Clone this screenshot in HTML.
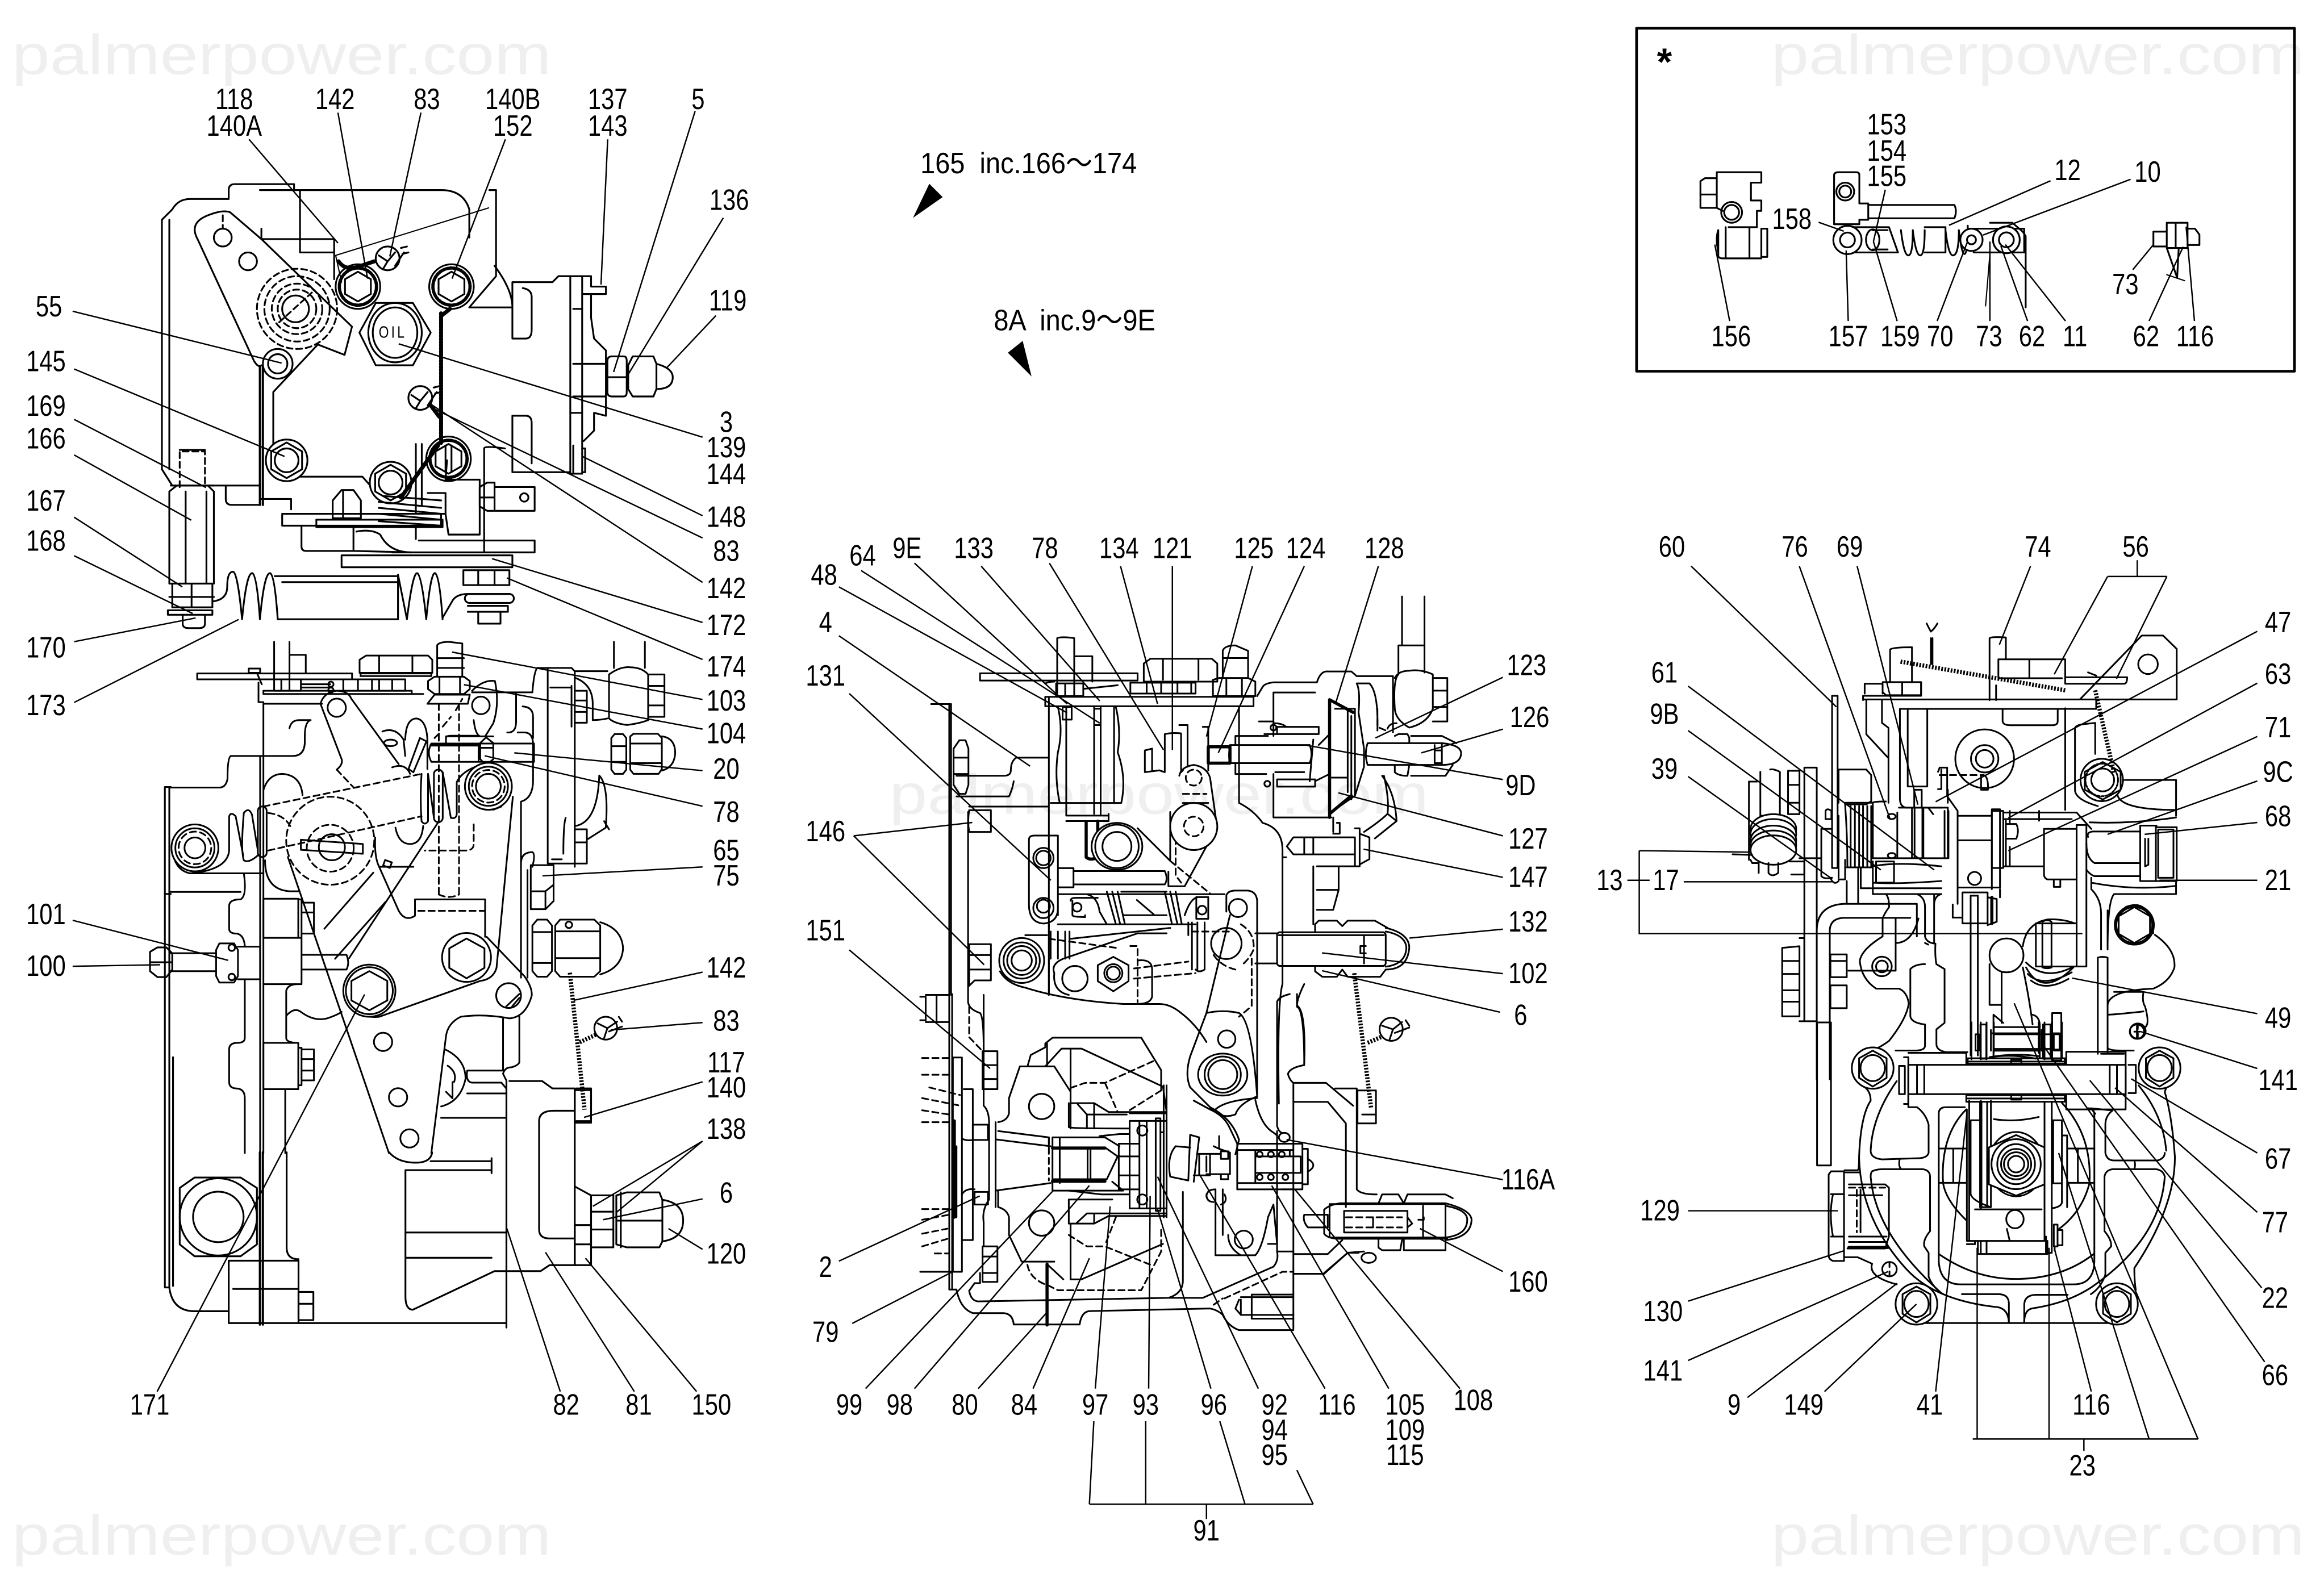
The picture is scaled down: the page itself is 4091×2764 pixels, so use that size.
<!DOCTYPE html>
<html><head><meta charset="utf-8"><title>Fuel injection pump parts diagram</title>
<style>
html,body{margin:0;padding:0;background:#fff;width:4091px;height:2764px;overflow:hidden}
svg{display:block}
.g{fill:none;stroke:#000;stroke-width:1.2;stroke-linejoin:round;stroke-linecap:round}
.d{stroke-dasharray:4 2.5}
.t{stroke-width:.8}
.w{fill:#fff}
.wire{fill:none;stroke:#000;stroke-width:2.7;stroke-dasharray:1.1 1}
.l{fill:none;stroke:#000;stroke-width:.95}
.z path,.z circle,.z ellipse,.z rect{vector-effect:non-scaling-stroke;stroke-width:3px;fill:none;stroke:#000;stroke-linejoin:round;stroke-linecap:round}
.z .w{fill:#fff}
.z .dd{stroke-dasharray:11 7}
.z .tk{stroke-width:5.5px}
.z .zw{stroke-width:7.5px;stroke-dasharray:3 2.6;stroke-linecap:butt}
.lab text{font-family:"Liberation Sans",sans-serif;font-size:20px;fill:#000;text-anchor:middle;dominant-baseline:central;transform-box:fill-box;transform-origin:center;transform:scaleX(.8)}
.lab text.x9{transform:scaleX(.9)}
.wm{font-family:"Liberation Sans",sans-serif;font-size:38px;fill:#efefef}
</style></head><body>
<svg xmlns="http://www.w3.org/2000/svg" width="4091" height="2764" viewBox="0 0 1568 1059.4">
<defs>
<g id="b"><circle r="14" class="w"/><path d="M0-12 10.4-6V6L0 12-10.4 6V-6Z"/></g>
<g id="bs"><circle r="15" class="w"/><circle r="12.5" stroke-dasharray="1.5 1" stroke-width="2.2"/><path d="M0-10 8.7-5V5L0 10-8.7 5V-5Z"/></g>
<g id="seal"><circle r="8" class="w"/><path d="M-6-2 0 2 5-4M0 2-3 7M5 5 11-4M9-7 13-8M10-3 14-4"/></g>
</defs>
<rect width="1568" height="1060" fill="#fff"/>
<text class="wm" x="8" y="50" textLength="364" lengthAdjust="spacingAndGlyphs">palmerpower.com</text>
<text class="wm" x="1195" y="50" textLength="360" lengthAdjust="spacingAndGlyphs">palmerpower.com</text>
<text class="wm" x="8" y="1049" textLength="364" lengthAdjust="spacingAndGlyphs">palmerpower.com</text>
<text class="wm" x="1195" y="1049" textLength="360" lengthAdjust="spacingAndGlyphs">palmerpower.com</text>
<text class="wm" x="600" y="549" textLength="364" lengthAdjust="spacingAndGlyphs">palmerpower.com</text>

<g transform="scale(1.002)" class="g">
<!-- LEFT VIEW TOP -->
<path d="M109 316V148L116 141Q120 134 128 134H154V128Q154 124 158 124H198V128M114 148V316M109 316L116 327H174"/>
<path d="M175 128H297Q312 128 316 141V160M202 128V170M202 170L225 170"/>
<path d="M329.500 128H334V186L316 207H345Q345 195 333 179M345 190V228H354Q358 228 358 222V200Q358 195 352 194M345 318V280H354Q358 280 358 285V312M345 190H372L376 186H384V318H346"/>
<path d="M384 186H392V319H384M392 186H398V193H408V198H392M398 198V214L400 228 408 236V280L400 278V290L393 297M386 245H408V267H386M386 208H392"/>
<path d="M409 243Q409 240 412 240H420Q422 240 422 243V264Q422 267 420 267H412Q409 267 409 264ZM409 254H422M423 246 426 240H440L442 245V262L440 267H426L423 262ZM442 245Q453 248 453 254Q453 262 442 262"/>
<path d="M384 278H392M386 300V318M392 302H394V318H392"/>
<path d="M176 161H225V188M176 154V161M176 161L237 220 232 239 214 232 184 264V309L201 321H244L252 330"/>
<path d="M133 161Q127 150 140 145 150 141 155 143L176 161M133 161L171 243Q174 248 176 246"/>
<path d="M175 247V340M177 247V340" stroke-width="1.5"/>
<circle cx="150" cy="160" r="6"/><circle cx="167" cy="176" r="6"/><path d="M150 145V154" class="d"/>
<g class="d"><circle cx="200" cy="208" r="27"/><circle cx="200" cy="208" r="22"/><circle cx="200" cy="208" r="17"/><circle cx="200" cy="208" r="13"/></g>
<circle cx="199" cy="208" r="9"/><path d="M188 217 210 197" class="d"/>
<circle cx="187" cy="245" r="10" class="w"/><circle cx="187" cy="245" r="6.500"/>
<use href="#bs" x="241" y="193"/>
<use href="#bs" x="304" y="193"/>
<path d="M242 224 253 204H278L290 224 278 246H253Z" class="w"/>
<ellipse cx="266" cy="224" rx="18" ry="20"/><ellipse cx="266" cy="224" rx="15" ry="17"/>
<use href="#b" x="193" y="310"/><circle cx="193" cy="310" r="8"/>
<use href="#b" x="263" y="325"/><circle cx="263" cy="325" r="8"/>
<use href="#bs" x="302" y="309"/><path d="M300 300V318M304 300V318"/>
<path d="M226 172 329 140M226 172 230 190" class="t"/>
<path d="M297 211V299M295 300 270 335" class="wire"/>
<path d="M228 176Q232 182 240 180L252 176M303 208 298 212" class="wire"/>
<use href="#seal" x="261" y="174"/><use href="#seal" x="283" y="268"/>
<path d="M290 273 296 281" class="wire"/>
<path d="M280 299V363M284 299V340"/>
<path d="M152 327V336Q152 340 156 340H175M176 336H196V343"/>
<path d="M190 346H297V354H190ZM213 350H298V355H213Z" class="w"/>
<path d="M224 349V337L230 330H238L243 337V349ZM231 331V349"/>
<path d="M203 354V368Q203 371 206 371H238V354M238 371L277 372Q262 372 256 360 250 356 240 358"/>
<path d="M255 338 297 342M255 342 297 346M255 346 297 350M255 351 297 354M258 334 297 337"/>
<path d="M288 332H300V346H288M300 323H323V360H302L300 346M300 323 301 310"/>
<path d="M323 328 328 325H333V344H328L323 341ZM323 335H333M333 328H360V344H333Z"/><circle cx="353" cy="335" r="2.800"/>
<path d="M326 302V372M326 302Q326 300 340 302"/>
<path d="M282 364H360V372H282M264 372H282"/>
<path d="M230 374H345V382H230Z"/>
<path d="M121 328V304H138V328" class="d"/><path d="M121 303H138"/>
<path d="M114 331 119 327H140L144 331V393H114ZM125 331V393M139 331V393M115 327H144"/>
<path d="M116 393H143V409H116ZM129 393V409M114 402H144"/>
<rect x="113" y="411" width="30" height="3"/><path d="M123 414V420Q123 423 127 423H134Q138 423 138 420V414"/>
<!-- spring -->
<path d="M143 405Q153 404 153 395 153 385 157 385 160 386 163 417 166 385 170 386 173 388 175 417 178 385 182 386 185 388 187 417M185 388H268V417H187M190 392H268"/>
<path d="M268 387 274 417Q278 385 281 386 284 388 287 417 290 385 293 386 296 388 298 417"/>
<path d="M298 416 305 404Q308 400 315 400H343"/>
<path d="M312 394V384H343V394H312ZM322 384V394M333 384V394"/>
<rect x="313" y="400" width="33" height="6" rx="3"/>
<path d="M315 408H342V412H315M322 412V420H337V412"/>
<!-- LEFT VIEW LOWER REMAINDER -->
<path d="M111 530V867H114V530H111M111 530H115M116.500 712V866M112 602H115"/>
<path d="M114 867Q116 883 131 883H154M154 849V891H341M154 849H201V891M157 868H201"/>
<path d="M175 776V892M177 776V892" stroke-width="1.5"/>
<path d="M341 728V894M343 728H365L372 733H387V852H370L364 856H342"/>
<path d="M373 748H387M373 748Q363 748 363 755V828Q363 834 370 834H387"/>
<path d="M388 733H398V755H388M387 799 398 805M398 805H413V840H398Z"/>
<path d="M398 816H413M398 828H413"/>
<path d="M415 805 422 803H444L446 808V836L444 840H422L415 838ZM418 803V840M415 822H446M446 808Q460 810 460 822 460 834 446 836"/>
<path d="M387 825H398V852H387ZM387 838H398"/>
<path d="M201 870H211V889H201ZM201 878H211"/>
<path d="M193 776V840Q193 848 201 848"/>
<path d="M101 641 106 638H112L116 642V653L112 658H106L101 654ZM101 648H116"/>
<path d="M262 776Q268 783 280 783 290 783 291 776"/>
<path d="M273 788V873Q273 882 278 882L333 856H341M273 830H341M273 847H331M273 788H331M290 782 331 782V788M331 780V790"/>
<path d="M121 800 131 793 162 793 173 800 173 838 162 846 131 846 121 838Z" class="w"/>
<circle cx="147" cy="819.500" r="26"/><circle cx="147" cy="819.500" r="17"/>
<!-- INSET -->
<rect x="1102" y="19" width="443" height="231" stroke-width="1.800"/>
<path d="M1156 116H1186V123H1179V135H1186V142H1183V153H1164M1156 116V140H1145V122L1148 120H1156M1145 131H1156M1156 140 1160 142"/>
<circle cx="1166" cy="143" r="7"/><circle cx="1166" cy="143" r="5"/>
<path d="M1157 155V172Q1157 174 1160 174H1186V154M1157 155Q1155 160 1157 170M1186 154H1190V173H1186M1162 153V174M1178 153V174"/>
<path d="M1235 118Q1235 116 1238 116H1250Q1252 116 1252 118V137H1258V148H1252V151H1235ZM1258 138H1316Q1318 142 1316 147H1258"/>
<circle cx="1242.500" cy="129" r="6"/><circle cx="1242.500" cy="129" r="4"/>
<path d="M1244 153H1272L1278 170H1244" class="w"/>
<circle cx="1244" cy="161.600" r="9.500" class="w"/><circle cx="1244" cy="161.600" r="5"/>
<ellipse cx="1261" cy="161.500" rx="4.500" ry="7"/>
<path d="M1261 155H1271M1261 168H1271"/>
<path d="M1280 155Q1282 172 1285 172 1288 172 1288 155 1290 172 1293 172 1296 172 1296 155M1296 153H1310V170H1296M1310 155Q1312 172 1315 172 1319 172 1319 155 1321 172 1323 171 1325 170 1325 152"/>
<path d="M1325 154H1363V170H1329"/>
<circle cx="1327.500" cy="161.500" r="7.500" class="w"/><circle cx="1327.500" cy="161.500" r="3"/>
<path d="M1340 150H1355L1362 156 1364 159V207"/>
<ellipse cx="1351" cy="161.500" rx="9" ry="9" class="w"/><circle cx="1351" cy="161.500" r="5"/>
<path d="M1337 206 1340 170" class="t"/>
<path d="M1459 150H1473V167H1459ZM1459 150V167M1450 156H1459V166H1450ZM1473 154H1478L1481 158V165H1473M1465 150V167M1459 167 1466 187 1467 168"/>
<path d="M1459 185 1471 189" class="t"/>
</g>

<!-- CROP A: left view middle -->
<g class="z" transform="translate(115 433.100) scale(.22)">
<path d="M82 97H557V115H82ZM240 82H275V95H240ZM265 95 280 130M270 125V185H285M318 0V115M365 0V115M365 40H415V97"/>
<path d="M318 115H400V150H318ZM340 115V150M365 115V150M530 115H720V150H530ZM575 115V150M618 115V150M640 115V150M680 115V150M400 130H490M400 140H490"/>
<circle cx="492" cy="130" r="8"/><circle cx="492" cy="148" r="8"/>
<path d="M580 95V55L600 42H790L803 55V95ZM640 42V95M742 42V95M583 97H800V105H583ZM285 150H740V160H285ZM285 160H775M285 190H465M285 190V1568M275 350V1568"/>
<path d="M365 265Q370 240 395 240H430Q412 245 412 290V310Q410 350 375 350H185Q175 355 175 420 170 447 150 447H0"/>
<path d="M790 120 810 107H900L918 120V145L900 160H810L790 145ZM825 107V160M888 107V160M818 105V10Q825 0 855 0L895 5V105M818 50H900M818 80H900M810 162H918L912 190H788Z"/>
<path class="dd" d="M823 190V775M885 190V775M823 775Q855 790 885 775M810 295 825 280M835 260 860 230M875 210 895 175"/>
<circle cx="952" cy="195" r="27"/>
<path d="M925 150Q960 115 995 120 1010 190 990 250L965 290M930 240Q935 285 950 290M845 290H990M845 290V310"/>
<path d="M925 155H1110Q1115 90 1125 80H1230L1240 90H1340M1157 80V680H1240M1240 90V690M1165 140H1230M1240 150H1277V248H1240M1240 180H1277M1240 215H1277M1230 135V260M1240 110Q1295 130 1295 190V240Q1320 240 1340 235"/>
<path d="M1033 278Q1060 280 1060 245V155M1080 198Q1112 200 1112 230V295M1065 278H1085Q1110 278 1112 310V430Q1110 480 1075 490V1030M1075 680Q1075 645 1110 645 1120 650 1110 690M1315 410Q1345 440 1335 570L1280 605M1240 565Q1310 555 1315 410M1330 550 1345 575M1240 575H1277V680H1240M1240 615H1277M1170 667H1200M1212 540Q1205 560 1205 650"/>
<path d="M1345 100Q1380 75 1410 78 1445 78 1465 100V240Q1440 250 1400 255 1360 250 1345 235ZM1465 100H1515V230H1465M1465 135H1515M1465 195H1515M1360 0V80M1455 0V80"/>
<path d="M1352 295 1362 283H1388L1398 295V392L1388 405H1362L1352 392ZM1352 320H1398M1352 368H1398M1410 290 1420 282H1495L1507 295V390L1497 405H1420L1410 392ZM1410 312H1507M1410 372H1507M1507 290Q1548 295 1548 342 1545 385 1507 395"/>
<path d="M800 312H1115V368H800Q785 340 800 312M945 312V368M950 310 968 293 990 310V360L968 378 950 360ZM950 325H990M845 295Q845 288 860 288H945"/>
<path class="tk" d="M800 316H945"/>
<path d="M765 295 785 305 745 400 730 390ZM720 300Q722 235 755 235 785 240 788 300V390M650 275Q690 260 715 300L720 350M680 385Q720 370 735 405"/>
<ellipse cx="675" cy="310" rx="20" ry="10"/>
<circle cx="510" cy="202" r="28"/>
<path d="M460 190Q470 155 510 150 545 150 555 175L700 375M460 190 525 360Q530 375 510 392"/>
<path class="dd" d="M510 392 560 445"/>
<path class="dd" d="M285 505 770 405M300 640 770 535M300 525Q350 530 370 570M930 560V620Q930 640 905 640H780"/>
<rect x="268" y="505" width="27" height="155" rx="13"/><rect x="808" y="392" width="27" height="161" rx="13"/>
<path d="M770 405Q765 480 770 550 780 565 790 550V405M268 655Q240 680 225 670 215 640 225 525 240 505 250 530L268 640M180 640V535Q185 520 200 535L223 655M180 640Q175 700 60 710 10 700 5 630M60 710H285M790 405 808 540M835 400 860 540Q880 545 878 520V430Q895 395 950 378"/>
<circle cx="75" cy="632" r="72" class="w"/><circle cx="75" cy="632" r="60"/><circle cx="75" cy="632" r="50" class="dd"/><circle cx="75" cy="632" r="32"/>
<circle cx="975" cy="443" r="72" class="w"/><circle cx="975" cy="443" r="60"/><circle cx="975" cy="443" r="50" class="dd"/><circle cx="975" cy="443" r="38"/>
<path d="M990 515 1015 505"/>
<path d="M1050 475 1000 1000Q990 1035 950 1040L640 1150Q600 1155 560 1130M970 905 1085 1025Q1110 1060 1108 1085 1090 1150 1040 1155 960 1140 890 1150 850 1170 845 1210L800 1568M360 660 670 1568M628 600Q625 660 640 690L700 825Q720 860 750 840V790H965V905M640 690H745"/>
<path class="dd" d="M760 825H965"/>
<circle cx="490" cy="610" r="135" class="dd"/><circle cx="490" cy="633" r="72" class="dd"/><circle cx="495" cy="630" r="40"/>
<path d="M400 607 590 620V650L400 638Z"/>
<path d="M690 570Q700 620 735 620 770 620 775 565M472 880 622 708M505 972 660 797M548 970 820 555"/>
<rect x="655" y="672" width="22" height="18" transform="rotate(20 665 680)"/>
<path d="M285 455Q300 405 345 405 400 410 405 470M290 670Q290 760 365 765H395"/>
<path d="M285 788H392V908H285ZM402 800H440V895H402ZM402 830H440M392 790H402V1050M285 908H402V1050H285M402 960H540Q550 985 540 1005H402M285 1230H392V1372H285ZM402 1250H440V1345H402ZM402 1280H440M402 1315H440M392 1245H402V1360H392"/>
<path d="M285 710H225Q235 780 215 790 180 790 180 810V880Q180 895 205 895 225 900 228 932M228 1035V1215Q228 1230 205 1230 180 1230 180 1250V1350Q180 1370 205 1370 228 1372 228 1400V1568M0 767H215M140 955H0M140 1010H0"/>
<path d="M140 945 150 925H195L207 945V1025L195 1045H150L140 1025ZM207 935H275V1035H207"/>
<circle cx="188" cy="938" r="10"/><circle cx="188" cy="1028" r="10"/>
<path d="M355 1070V1215Q355 1228 385 1230M355 1070Q360 1052 385 1050M357 1145Q380 1120 400 1135 440 1165 480 1155 510 1145 525 1135M352 1372V1568"/>
<circle cx="908" cy="968" r="75" class="w"/><path d="M908 910 963 940V1000L908 1032 855 1000V940Z"/>
<circle cx="610" cy="1070" r="80" class="w"/><circle cx="610" cy="1070" r="72"/><path d="M610 1010 665 1040V1100L610 1130 555 1100V1040Z"/>
<circle cx="652" cy="1227" r="28"/><circle cx="698" cy="1397" r="28"/><circle cx="733" cy="1523" r="28"/>
<circle cx="1037" cy="1085" r="38"/><path d="M1030 1118 1070 1080M1048 1118 1070 1092"/>
<path d="M842 1250Q905 1280 905 1340 890 1410 830 1425M850 1300Q880 1320 870 1350M845 1380 865 1400V1350"/>
<path d="M1105 820V685H1175V745L1150 765V820M1110 765H1150M1105 820H1150L1175 795V745M1095 700V1030"/>
<path d="M1110 870 1125 852H1155L1170 870V1010L1155 1027H1125L1110 1010ZM1110 890H1170M1110 985H1170M1180 870 1195 852H1300L1318 870V1010L1300 1027H1195L1180 1010ZM1180 888H1318M1180 970H1318M1318 860Q1385 880 1388 940 1385 1000 1318 1020"/>
<circle cx="1222" cy="868" r="10"/>
<path class="zw" d="M1225 1015 1270 1435M1255 1228 1305 1205"/>
<circle cx="1335" cy="1185" r="35" class="w"/><path d="M1310 1170 1340 1185 1370 1165M1340 1185 1330 1215M1345 1195 1385 1180M1375 1150 1385 1165"/>
<rect x="1240" y="1375" width="50" height="100"/>
<path d="M1070 1150V1290Q1065 1300 1045 1305 1025 1305 1020 1325L1030 1345M1020 1155V1315H910Q905 1350 925 1352H1015L1030 1370M910 1385H1030M830 1460H1030"/>
</g>

<!-- CROP B: middle view upper -->
<g class="z" transform="translate(620.900 402.500) scale(.2444)">
<path d="M30 297H85V1100M80 297V1100M132 595V1120Q135 1140 165 1150 175 1160 175 1250V1100"/>
<path d="M92 420 108 397H125L133 420V520L125 545H108L92 520ZM92 445H133M92 490H133M135 590H195V650H135M135 590Q130 620 135 650M135 960H195V1060H150L135 1075V960ZM135 990H195M135 1030H195M0 1105H15V1170H0M15 1100H45V1175H15M45 1100H80V1175H45"/>
<path d="M355 445H265Q250 455 250 480 250 495 230 495H100M100 552H245Q255 530 258 510M135 580H355M355 280V1100M345 277H920V303H345Z"/>
<path d="M378 115Q390 110 425 115V277M378 115V277M425 165H475V235M165 212H600V232H165Z"/>
<path d="M345 240Q355 235 370 235M375 240H450V275H375ZM400 240V275M425 240V275M580 238H760V268H580ZM625 238V268M665 238V268M710 238V268M748 238V268M450 255 545 245"/>
<path d="M617 235V185L635 172H805L820 185V235ZM670 172V230M768 172V230M835 225V150Q840 135 870 135L905 150V225M835 170H905M808 230 825 225H905L925 235V275H808ZM845 225V275M888 225V275"/>
<path d="M403 305V605H520M480 305V600M498 305V605M535 305V570M393 305H418V340H393ZM480 310H498V355H480M380 305Q395 370 380 430 370 500 385 570M540 305Q555 370 545 430 570 500 555 570H360M403 620H520V600"/>
<path d="M458 622V720Q470 730 490 720V620" class="tk"/>
<ellipse cx="543" cy="690" rx="70" ry="65" class="w"/><circle cx="543" cy="690" r="60"/><circle cx="543" cy="690" r="40"/>
<path d="M600 640 690 730V595M715 495Q720 470 755 465 790 470 800 500L820 640Q815 670 790 690L730 800H685V760M725 570H795"/>
<path class="dd" d="M690 730 800 820M725 545H790M705 610V770L720 790"/>
<circle cx="755" cy="635" r="65" class="w"/><circle cx="755" cy="635" r="27" class="dd"/><circle cx="755" cy="500" r="22" class="dd"/>
<path d="M300 672Q300 660 315 660H380V880M300 672V850Q300 900 340 903 380 900 380 860M380 750H423V803H380M423 758H675Q685 780 675 795H423"/>
<circle cx="340" cy="722" r="28"/><circle cx="340" cy="722" r="20"/><circle cx="340" cy="860" r="28"/><circle cx="340" cy="855" r="18"/>
<path d="M415 840Q415 832 430 832H490M380 822H840M420 840V880Q420 885 455 885V880M555 815H680M560 880H680M515 815 540 905M530 815 552 905M545 815 565 905M675 815 695 905M690 815 710 905M705 815 722 905M460 822Q490 830 495 870L515 905M598 838 645 878M730 880Q745 835 765 830M762 830H795V890H762ZM380 905H760"/>
<circle cx="433" cy="858" r="12"/><circle cx="778" cy="866" r="12"/>
<path d="M845 825Q850 812 870 812H905Q928 815 930 840V1380M855 880 790 1150M845 825V870"/>
<circle cx="877" cy="860" r="25"/>
<ellipse cx="845" cy="958" rx="42" ry="43"/>
<path class="dd" d="M885 905Q925 930 920 975 910 1000 885 1020M915 1000V1130Q905 1140 880 1160M810 990Q830 1020 870 1030M590 1027 740 1008M590 1055 760 1040M750 925H860M355 945 540 970M580 965H600V1120"/>
<path d="M790 1150Q835 1140 880 1150 915 1170 930 1380 880 1400 870 1430 830 1445 800 1410L745 1355Q730 1320 745 1270L790 1150"/>
<ellipse cx="835" cy="1320" rx="68" ry="58" class="w"/><circle cx="835" cy="1320" r="50"/><circle cx="835" cy="1320" r="40"/><circle cx="846" cy="1222" r="24"/>
<path d="M800 1410Q860 1440 880 1500L870 1540M925 1390Q940 1460 975 1480L985 1488"/>
<path d="M290 935H350M220 1035Q240 1070 290 1080 400 1115 560 1125H660Q690 1125 720 1150 760 1180 790 1230M370 1040Q360 1015 395 1000L600 930H680M415 945 690 915M600 1005Q640 1000 640 1030V1105Q635 1125 600 1125M370 1040Q365 1090 410 1100M750 900V1030M765 900V1030M785 900V1030Q770 1040 760 1030M740 900V935M355 905V1100"/>
<path d="M360 925V1000M380 925V1000M400 925V1000M412 925V1000"/>
<circle cx="280" cy="1005" r="62" class="w"/><circle cx="280" cy="1005" r="50"/><circle cx="280" cy="1005" r="40"/><circle cx="280" cy="1005" r="28"/>
<circle cx="427" cy="1055" r="35"/>
<path d="M533 995 575 1018V1062L533 1090 490 1062V1018Z" class="w"/><circle cx="533" cy="1040" r="25"/><circle cx="533" cy="1040" r="18"/>
<path d="M925 930H985M925 1013H985"/>
<rect x="985" y="927" width="300" height="93" rx="8"/>
<path d="M990 935H1280M1285 915Q1350 930 1350 970 1345 1030 1285 1030M1285 925Q1340 935 1342 970 1340 1015 1285 1022M1090 925V905L1100 895H1150L1165 910 1180 895H1255L1290 915M1090 1020V1035L1110 1050H1150L1165 1030 1180 1050H1270L1285 1030M1225 935V1013M1215 965H1230M1215 985H1230M1215 965V985"/>
<path d="M1095 745H1155V810L1140 865H1095M1095 810H1155M1085 745V905M1060 665H1200V745H1100M1060 665H1030L1012 690 1030 712H1200M1060 665V712M1085 665V712M1200 640H1213V745H1200M1213 655 1240 665V725L1213 740"/>
<path d="M880 303V570Q920 590 945 625 1000 640 1000 700V1070M1010 720H1000M1000 1070Q985 1120 990 1400M1060 1070Q1040 1110 1040 1130 1065 1140 1060 1290"/>
<path d="M930 275 945 250Q950 240 975 237H1095Q1105 205 1125 207H1190L1205 220H1305V375M975 265H1090M975 265V350Q1000 350 1010 360M1205 240H1240Q1265 265 1262 370M975 610V490M975 610H1135"/>
<path class="tk" d="M795 415H855V460H795Z"/>
<path d="M855 410H1075M855 460H1075Q1085 435 1075 410M855 415Q850 440 855 460M870 385H960M870 490H955M870 385V410M870 460V490M935 345H975V385M950 380H985M985 360H1100V380H985ZM985 505H1090V525H985ZM980 485H1060"/>
<circle cx="975" cy="362" r="8"/><circle cx="958" cy="517" r="8"/>
<path class="tk" d="M1130 285 1195 320M1130 285V610M1130 600 1190 550"/>
<path d="M1145 310H1200V550L1135 595M1180 310V540M1190 330V560M1100 410 1130 380V490L1090 510M1130 390V500H1180M1085 395 1075 510M1210 320 1225 420V470L1200 550M1140 610V650M1150 625H1158V655H1140M1205 240Q1215 260 1210 320"/>
<path d="M1235 405H1440V465H1235Q1225 435 1235 405M1310 385 1320 380H1345L1350 390V405M1310 465V485Q1320 495 1345 495L1350 465M1355 385H1440L1480 405M1355 495H1450L1470 465M1440 405Q1495 410 1493 435 1490 465 1440 465M1420 410V460H1440M1420 425H1440"/>
<path d="M1330 0V135M1392 0V135M1320 135H1392V210M1320 135V215Q1305 230 1310 310 1312 340 1350 362 1400 350 1415 310V215Q1380 200 1350 205 1320 205 1310 225M1415 225H1455V345H1415M1415 260H1455M1415 305H1455M1290 365Q1295 350 1315 350M1275 495Q1310 540 1315 620L1255 668M1280 495Q1295 560 1290 600 1270 620 1225 650M1290 600 1315 620"/>
<path class="dd" d="M1262 310V360L1290 372"/>
<path d="M640 420 620 425V485L660 480 675 485V380Q695 375 720 378V485L725 480M640 420V480M715 355H738V470M780 360H795V480"/>
<path class="zw" d="M1198 1040 1245 1415M1235 1232 1275 1215"/>
<circle cx="1300" cy="1195" r="32" class="w"/><path d="M1275 1185 1305 1195 1330 1175M1305 1195 1295 1225M1310 1205 1350 1190M1340 1170 1350 1185"/>
</g>

<!-- CROP C: middle view lower -->
<g class="z" transform="translate(620.900 670.800) scale(.2444 .1711)">
<path d="M80 0V1165H100M88 0V1165M100 1165Q110 1240 145 1258H230Q255 1260 258 1303H440Q445 1250 470 1250L800 1240Q820 1245 835 1265 850 1310 880 1325H1030"/>
<path d="M135 1170Q140 1210 160 1212L685 1198Q725 1180 725 1130V780M685 1198H780L975 1075Q990 1050 985 1015H1030M1030 1103H1115L1180 1020H1210M135 1170 150 1140H165V1100M172 995H213V1135H172ZM172 1035H213M172 1100H213"/>
<path class="dd" d="M810 1225 835 1200M840 1200 1000 1095H1030M135 50V170L172 225"/>
<path d="M175 100V440Q190 460 190 510V810Q170 850 175 900V995M172 225H213V375H172ZM172 280H213M172 335H213"/>
<path d="M90 250H115V1095H90ZM120 375H145V970H115M100 600V880"/>
<path class="tk" d="M94 500V880"/>
<path class="dd" d="M5 252H80M5 318H80M25 368 110 398M5 410 110 440M5 458 80 475M5 505H80M5 848H80M5 890 80 870M5 945 75 925M5 995 75 965M40 1023H80"/>
<path d="M0 1095H90M145 515H187V575H145ZM150 780H187V830H150ZM115 570Q130 580 145 575M115 790Q125 765 150 770"/>
<path d="M215 505Q240 500 245 470V410L275 285H370L415 385V530M297 280 305 240 345 210V195L365 172H610L665 300V380M350 195V280M345 285 390 215H445L670 365 680 465M415 215V430H480L520 465H680M410 430V525Q415 530 575 530M460 475V530M435 435 460 475H570M480 430V530"/>
<ellipse cx="335" cy="443" rx="35" ry="50"/><ellipse cx="335" cy="903" rx="35" ry="50"/>
<path class="dd" d="M415 370 455 350H510L650 260M510 350 545 465M665 380 570 465M410 950 460 995H510L640 1070M540 880 510 990M665 930V1015L610 1168H380L355 1150Q300 1125 295 1060M355 565V735"/>
<path d="M215 540 355 565V600M208 573 360 600M208 573V775L360 745M215 775V840Q240 850 245 880V950L280 1055H370M208 505V840"/>
<path d="M365 605H510L545 640 515 730H365M365 565V775H560L530 740M385 565V745M462 610V735M470 610V735M365 565H510L550 600"/>
<path class="tk" d="M365 607H510M365 738H510"/>
<path d="M548 590H605V770H548ZM548 640H605M548 715H605M578 500H680V845H578ZM605 500V845M625 505V840M650 490H663V855H650ZM663 545H672V800M578 470H680M495 560 550 552H578M410 810H530M410 775Q470 785 500 790H578M410 810V905"/>
<ellipse cx="613" cy="538" rx="14" ry="20"/><ellipse cx="613" cy="810" rx="14" ry="20"/>
<path d="M410 905H480L520 875H680M460 865H680M460 865 430 905M480 870V905M415 905V1125H445L670 985"/>
<path class="tk" d="M350 1065V1305"/>
<path d="M350 1065 395 1125M672 360V880M680 360V880"/>
<path d="M705 600Q680 640 690 720L740 735 745 555 770 565 755 740M705 600 745 605M765 630H800V715H755M770 630V710M790 640V700M800 630H830M825 560V610L855 625V710H790M830 620H850V650H830ZM830 710H850V730H830ZM810 600 840 620"/>
<path d="M875 590H1055V770H875ZM875 615H1020V640M925 640H1050V705H925ZM925 615V740M875 745H1055M1055 610H1070V750H1055M1070 650Q1100 675 1070 700M1020 615H1030"/>
<ellipse cx="937" cy="632" rx="8" ry="11"/><ellipse cx="968" cy="632" rx="8" ry="11"/><ellipse cx="998" cy="632" rx="8" ry="11"/><ellipse cx="937" cy="722" rx="8" ry="11"/><ellipse cx="968" cy="722" rx="8" ry="11"/><ellipse cx="1008" cy="722" rx="8" ry="11"/><ellipse cx="1005" cy="565" rx="15" ry="18"/>
<path d="M755 420 800 455Q840 480 855 530L875 590M815 455Q840 420 930 410M815 770V1030H885M835 770V950M850 950Q850 1000 885 1030H925Q945 1000 960 880L975 830 985 985M960 985H985V820M790 790Q790 820 810 820M815 770Q790 770 790 800M840 790Q850 820 830 830M1000 770H1030"/>
<ellipse cx="893" cy="968" rx="25" ry="35"/>
<path d="M1030 350H1120L1195 440M1145 372H1205V770Q1215 790 1260 790M1030 425H1125L1175 510V840M1207 380H1258V510H1207ZM1220 475H1258M985 30Q990 10 1020 0M985 30V520Q990 545 1000 548M1040 0V50Q1060 60 1060 280 1020 290 1015 315 1020 340 1030 350M1030 350V1320M985 540V1015"/>
<rect x="1130" y="828" width="320" height="132"/>
<path d="M1115 850Q1130 830 1160 825H1450M1115 945Q1125 965 1160 965H1455M1115 850V945M1060 870H1125V920H1070Q1055 895 1060 870M1170 855H1345V940H1170ZM1345 880 1358 905 1345 920M1250 880V920M1388 835V960M1375 890H1390V880M1450 825Q1520 850 1522 890 1520 960 1450 970M1450 835Q1510 850 1510 890 1510 950 1450 960"/>
<path class="dd" d="M1175 880H1330M1175 920H1330"/>
<path d="M1265 825 1275 790H1320L1335 825 1345 790H1450L1470 805M1265 965V1000L1275 1010H1325L1330 970M1335 965V1010H1450V965M1180 1020 1225 1015M1115 1100 1180 1020M1030 1025H1125L1165 970"/>
<ellipse cx="1238" cy="1040" rx="20" ry="20"/>
<path d="M880 1205 870 1240 885 1265V1205M915 1185V1280H1030M915 1185H1030M885 1195H1030M885 1265H1030"/>
</g>

<!-- CROP D: right view upper -->
<g class="z" transform="translate(1169 383.300) scale(.22)">
<path d="M608 295V215M595 170Q605 190 608 195 620 185 628 170M613 295V215M483 350V250Q490 243 550 243V350M788 405V215Q795 210 838 213V278M808 405V360"/>
<path d="M815 335V280H1020V355M910 280V335M815 338H1010M1020 335H1210Q1210 355 1200 355H1020M1090 320 1115 330M1065 403 1255 207H1320L1362 248V403H400M400 405V392H578V350M513 432H1115V405"/>
<circle cx="1274" cy="295" r="30"/>
<path d="M405 385V355H460V385M460 350H578V390H470L460 380M520 350V390M410 405V510L475 580M458 405V475L478 490V720M513 432V710Q515 735 535 735H640M537 432H597V670H537ZM557 680H580V735H557ZM828 432V470Q830 482 850 482H985Q997 480 997 470V432"/>
<circle cx="773" cy="585" r="90"/><circle cx="773" cy="585" r="42"/><circle cx="773" cy="585" r="27"/>
<path class="dd" d="M635 635H770"/>
<path d="M770 635Q785 640 783 680H762V635M630 625 635 612H658V700L690 745V985M660 680V720M640 618V678H630M690 980H820V740H795V985M690 760H795M690 835H795"/>
<circle cx="742" cy="952" r="20"/>
<path d="M430 720Q430 716 470 716M430 720V890H660V735H510M505 750V890M550 735V890M585 735V890M600 735 615 755M650 745V890H662V745M558 735V890H582V735"/>
<ellipse cx="488" cy="762" rx="12" ry="8"/><ellipse cx="488" cy="882" rx="12" ry="8"/>
<path d="M345 725Q352 820 352 915M362 730V915M375 730V915M388 730V915M400 730V915M413 730V915M425 730V915M345 720H430M350 918H428"/>
<path d="M325 618H410L425 635V715L410 725H345M325 618V720"/>
<rect x="305" y="392" width="17" height="528"/>
<path d="M285 745Q290 735 303 745V770H285ZM272 800H305M272 800V945Q280 955 305 950M325 760V950M300 950Q310 975 325 960M345 895V955H325"/>
<rect x="220" y="612" width="38" height="778"/>
<path d="M50 655V895M50 655H75M85 625V760M115 618Q125 615 145 625V760H110M85 760H110M170 622H205V755H170ZM170 665H205M170 720H205"/>
<ellipse cx="125" cy="800" rx="70" ry="45" class="w"/><ellipse cx="125" cy="815" rx="70" ry="45" class="w"/><ellipse cx="125" cy="835" rx="70" ry="45" class="w"/><ellipse cx="125" cy="850" rx="70" ry="45" class="w"/><ellipse cx="125" cy="865" rx="70" ry="45" class="w"/>
<path d="M55 895 60 905H80M80 905V935M110 905V935Q120 950 140 935V905M175 900H220M180 940H220V900M260 890H270M0 878 60 880M205 890H260"/>
<path d="M258 1110Q260 1035 340 1030H565V1130M298 1110Q300 1075 340 1073H545M298 1110V1568M258 1110V1568M350 960V1030M385 920V1030M393 920V982H425M430 982H640M430 900V1000H640M430 915Q500 900 640 915M430 965Q500 970 640 960M440 900H495V965H440ZM430 1000H470Q480 1010 480 1040 465 1060 460 1075V1130Q395 1170 390 1205 395 1260 440 1290H510Q535 1300 540 1335 535 1380 480 1450 440 1480 415 1480M500 1073V1235H355M500 1150Q550 1150 570 1075"/>
<circle cx="458" cy="1222" r="30"/><circle cx="458" cy="1222" r="18"/>
<path d="M565 1000Q590 1010 590 1040V1130Q595 1150 622 1152 620 1190 625 1215L650 1230V1395L625 1415V1460Q625 1480 655 1485H720M618 1000V1150M640 1000Q620 1005 618 1030M590 1150 600 1155M590 1215Q560 1215 545 1230V1375Q548 1395 590 1400V1465Q590 1480 560 1480H500"/>
<path d="M152 1165 205 1160V1375H152ZM152 1205H205M152 1245H205M152 1295H205M152 1330H205M205 1135H220V1390H205M300 1185H350V1255H300ZM300 1280H350V1350H300ZM300 1205H350"/>
<path d="M730 1005V1495M752 1005V1495M730 1005H752M705 995H782V1090H705ZM675 1032V1072H705M782 1010 810 1015V1085L782 1095M810 1030V1070"/>
<path class="tk" d="M795 1010V1090"/>
<path d="M690 985V1030M820 985V1010"/>
<path d="M788 1215V1340H825V1395M825 1240V1340M890 1225Q910 1320 920 1400M830 1395 800 1370V1500M920 1370Q940 1375 942 1400V1500M800 1408H940M800 1430H990M800 1475H980M790 1500Q860 1490 930 1505M745 1430H755V1480H745ZM760 1400H778V1505H760ZM952 1400H975V1505H952ZM980 1365H1008V1510H980ZM985 1430H1003V1480H985Z"/>
<path d="M890 1160Q900 1090 965 1078 1010 1075 1050 1090M900 1225Q950 1320 1045 1225M905 1245Q950 1290 1040 1240M915 1265Q960 1300 1030 1260M900 1210Q960 1270 1050 1220"/>
<circle cx="840" cy="1188" r="52" class="w"/>
<rect x="930" y="1090" width="125" height="132" class="w"/>
<path d="M950 1090V1225Q965 1230 978 1225V1085Q965 1075 950 1085"/>
<rect x="1055" y="788" width="30" height="434" class="w"/>
<path d="M955 800H1055V955H965Q955 950 955 940ZM985 955H1005V978H985ZM830 770H1040M795 745H830V920H795ZM830 750H1055L1100 800M838 775V895M850 745V780M838 785H870Q880 805 870 830H838M830 915H955M838 855V915M850 855V915M940 745V775M1020 430V742"/>
<path d="M1090 825Q1085 810 1105 808H1250V905H1110Q1085 890 1085 845M1085 925Q1095 940 1110 945H1250M1250 790H1300M1250 790V960M1275 830V910L1265 915V830M1250 960H1300M1095 780Q1230 785 1360 765M1100 965Q1230 990 1360 975M1100 950V985Q1130 1015 1130 1060V1170M1150 1050V1170Q1150 1020 1170 1000H1360V960M1360 650H1205M1360 650V760"/>
<rect x="1298" y="795" width="64" height="165" class="w"/><rect x="1305" y="802" width="47" height="148"/>
<path d="M1120 730Q1050 710 1050 680V490Q1055 480 1085 478L1112 475V570M1200 650Q1120 740 1355 742"/>
<circle cx="1132" cy="650" r="65" class="w"/><circle cx="1132" cy="650" r="50" stroke-dasharray="4 3"/><path d="M1135 595 1190 625V680L1135 710 1080 680V625Z"/><circle cx="1135" cy="650" r="35"/>
<path class="zw" d="M1112 375 1170 630M515 287 1020 375"/>
<path d="M1120 1195V1490M1150 1195V1490M1120 1195Q1135 1190 1150 1195M1205 1040Q1280 1010 1290 1120M1295 1125Q1360 1170 1355 1225 1340 1270 1290 1290 1155 1295 1150 1340V1470Q1150 1480 1190 1480H1230M1170 1300H1260Q1255 1330 1265 1345 1280 1400 1265 1408M1150 1370Q1170 1370 1260 1360M1130 1490H1200"/>
<circle cx="1232" cy="1095" r="60" class="w"/><circle cx="1232" cy="1095" r="55"/><path d="M1232 1040 1280 1068V1122L1232 1150 1184 1122V1068Z"/>
<circle cx="1240" cy="1422" r="22"/><path d="M1232 1422H1248M1240 1405V1440"/>
</g>

<!-- CROP E: right view lower -->
<g class="z" transform="translate(1207.400 689.900) scale(.1955 .1467)">
<path d="M95 0H143V658H95ZM95 0"/>
<path d="M240 620Q245 430 280 360 280 310 250 290M280 590Q285 430 370 270M240 620Q240 680 235 680H190M240 620Q245 900 400 1130 500 1280 720 1310 755 1320 757 1380M280 710Q295 970 520 1240M1330 620Q1320 430 1295 320L1305 280M1300 590Q1290 430 1205 290M1330 620Q1330 850 1190 1130 1190 1190 1195 1230M1295 710Q1280 1000 1040 1220 960 1290 840 1315 810 1320 810 1380M470 1383H1100"/>
<path d="M410 140H610V195M955 330V400H1160V135H955V195M410 330V390H440Q470 420 480 470V600Q475 625 440 625L320 630Q280 625 280 590M285 685Q300 675 320 675H460Q485 680 485 710V960Q460 1000 465 1030L480 1060V1170Q495 1220 530 1250M280 710Q280 690 285 685M380 630Q375 660 385 675M1190 635Q1195 655 1190 675M1090 470V600Q1095 635 1120 635H1270Q1295 625 1295 600M1115 675H1265Q1290 680 1295 710M1115 675Q1090 680 1087 710V960Q1112 1000 1110 1030L1090 1060V1160Q1075 1220 1040 1250M1090 470Q1090 430 1115 405L1040 395 1055 420M595 1250H720Q755 1250 757 1290V1380M810 1380V1300Q810 1255 850 1253H960"/>
<path d="M515 420Q515 390 540 390H605M515 420V1100Q520 1205 590 1205H980Q1050 1205 1052 1100V420Q1050 395 1030 395M610 400Q520 520 530 740 540 820 610 910M940 370Q1045 520 1035 740 1010 870 930 950M515 1065Q640 1180 780 1180 940 1180 1050 1065"/>
<rect x="410" y="195" width="750" height="135" class="w"/>
<path d="M378 200H398V330H378ZM395 160H410V375H395M440 200V330M465 200V330M1105 200V325M1130 200V325M1170 195H1195V325H1170"/>
<path d="M610 335H950V365H610ZM610 350H950M765 335H800V355H765ZM620 360V1005M612 400V1005M640 860H870M612 1005H640V1020H612M640 1005H880M650 1005V1065H890V1005M660 1005V1065M680 1005V1065M682 365V850M695 360V850M660 850H695Q630 820 625 790V450H660M880 365V1005M905 365V1060H885V985M905 450H940V830Q935 850 905 855M910 450V740H940M940 520H958V850M705 445Q780 460 860 435M515 580H610M515 738H610M565 580V738M958 580H1052M958 738H1052M995 580V738M750 950 760 1005"/>
<path class="tk" d="M660 365V850"/>
<ellipse cx="778" cy="905" rx="30" ry="42"/>
<ellipse cx="782" cy="652" rx="95" ry="148" class="w"/>
<path d="M782 518 880 575V745L782 797 688 745V575Z" class="w"/>
<ellipse cx="782" cy="652" rx="85" ry="115"/><ellipse cx="782" cy="652" rx="65" ry="92"/><ellipse cx="782" cy="652" rx="52" ry="70"/><ellipse cx="782" cy="652" rx="42" ry="55"/><ellipse cx="782" cy="652" rx="28" ry="38"/>
<path d="M912 930H925V1030H912ZM925 955H942V1025H925M915 1030V1050"/>
<path d="M628 0V170M660 0V170M680 0V170M695 35V130M880 0V170M905 0V170M940 0V165M870 35H880V130H870ZM905 50H932V125H905M705 0V140M860 0V140M700 50H860M705 130H860M690 160Q770 140 860 155M615 165H950V190H615ZM765 172H800V190H765ZM615 180H950"/>
<path d="M143 685H188V1097H150Q135 1090 135 1070V700ZM150 790Q135 880 150 985M143 790H188M143 985H188M188 690H240M188 1080H235L285 1110M188 740V1040M205 745H330L343 760V985L330 1040H200M205 795H320M205 985H335M205 1010H335M245 770V965M285 1110Q270 1170 370 1205"/>
<path class="tk" d="M205 1035H340"/>
<path class="dd" d="M205 760H330M232 770V965"/>
<ellipse cx="345" cy="1135" rx="25" ry="33"/><ellipse cx="1202" cy="40" rx="27" ry="35"/>
<path d="M345 1105V1125M345 1145V1165M1202 10V30M1202 50V70"/>
<g><ellipse cx="287" cy="210" rx="72" ry="95" class="w"/><path d="M287 130 335 165V255L287 295 240 255V165Z"/><ellipse cx="287" cy="210" rx="42" ry="60"/></g>
<g><ellipse cx="1277" cy="210" rx="72" ry="95" class="w"/><path d="M1277 130 1325 165V255L1277 295 1230 255V165Z"/><ellipse cx="1277" cy="210" rx="42" ry="60"/></g>
<g><ellipse cx="438" cy="1295" rx="72" ry="95" class="w"/><path d="M438 1215 486 1250V1340L438 1380 390 1340V1250Z"/><ellipse cx="438" cy="1295" rx="42" ry="60"/></g>
<g><ellipse cx="1130" cy="1295" rx="72" ry="95" class="w"/><path d="M1130 1215 1178 1250V1340L1130 1380 1082 1340V1250Z"/><ellipse cx="1130" cy="1295" rx="42" ry="60"/></g>
</g>

<text transform="translate(1123 42)" font-family="Liberation Sans,sans-serif" font-size="26" font-weight="bold" text-anchor="middle" fill="#000" dominant-baseline="central">*</text>

<!-- leader lines -->
<path class="l" d="M168 94 228 164M228 76 248 188M284 76 263 173M341 94 305 188M410 94 405.500 192M469 75 414 251M488 147 423 254M483 213 450 248M49 210 190 245M50 249 192 308M50 283 139 329M50 307 129 351M50 349 123 396M50 375 130 414M50 433 132 417M50 474 161 418M474 295 269 232M474 348 393 308M474 363 291 275M474 393 291 273M474 420 332 377M474 445 342 390M474 472 305 440M474 492 313 462M474 520 347 508M474 544 327 510M474 585 366 591M474 656 387 675M474 690 412 695M474 730 394 754M474 770 400 814M474 770 416 818M474 809 407 823M474 843 451 829M470 939 395 849M428 939 368 845M378 939 342 829M106 939 246 671M49 621 154 648M49 652 108 651"/>
<path class="l" d="M566 396 720 481M581 385 742 488M617 380 720 475M662 382 742 473M708 380 785 506M756 382 781 475M791 382V506M845 382 814 497M880 382 822 508M930 382 901 475M566 429 695 517M573 468 709 594M576 564 656 555M576 564 664 651M573 641 668 721M566 851 661 807M575 893 643 858M584 937 711 803M617 937 735 800M660 937 706 886M697 937 735 849M739 937 749 814M775 937 776 807M817 937 781 816M849 937 781 794M894 937 809 792M937 937 858 800M985 937 874 803M1014 796 868 769M1014 858 958 829M1012 683 892 655M1014 657 892 643M1014 627 951 633M1014 592 920 573M1014 564 903 535M1014 526 882 503M1014 492 959 508M1014 457 928 498M735 1015H886M738 959 735 1015M773 959V1015M823 959 840 1015M875 992 886 1015M814 1015V1025"/>
<path class="l" d="M1141 382 1239 477M1214 382 1275 552M1253 382 1294 543M1370 382 1349 435M1422 389H1462M1442 378V389M1422 389 1386 455M1462 389 1428 458M1523 426 1306 541M1523 461 1355 552M1523 497 1355 574M1523 527 1422 563M1523 555 1447 563M1523 594H1457M1523 684 1398 660M1523 721 1444 696M1523 778 1438 728M1523 818 1427 734M1526 869 1410 729M1528 919 1379 706M1139 463 1305 587M1139 493 1269 587M1139 524 1236 593M1098 594H1113M1106 574V630H1405M1106 574 1180 575M1136 595H1236M1139 817H1240M1139 878 1244 844M1139 918 1274 858M1179 943 1280 866M1231 939 1293 880M1306 939 1327 752M1411 939 1386 842M1331 971H1483M1334 971V842M1382.500 971V842M1450 971 1389 778M1483 971 1359 677M1406 971V979"/>
<path class="l" d="M1272 128 1264 163M1227 150 1244 156M1383.500 122 1315 152M1437.500 121 1338 158.600M1167 216.600 1157 165M1247 216.600 1245.600 169M1280 216.600 1264 163M1307 216.600 1327.500 163M1342.600 216.600V163M1368 216.600 1350 166M1393.600 216.600 1353 165M1439 182 1453 165M1450 216.600 1473 166.500M1480.600 216.600 1475 153"/>
<path fill="#000" d="M616 147 627 124 636 133ZM696 254 680 238 690 230Z"/>

<g class="lab">
<text x="158" y="67">118</text><text x="158" y="85">140A</text><text x="226" y="67">142</text><text x="288" y="67">83</text><text x="346" y="67">140B</text><text x="346" y="85">152</text><text x="410" y="67">137</text><text x="410" y="85">143</text><text x="471" y="67">5</text><text x="492" y="135">136</text><text x="491" y="203">119</text><text x="33" y="207">55</text><text x="31" y="244">145</text><text x="31" y="274">169</text><text x="31" y="296">166</text><text x="31" y="338">167</text><text x="31" y="365">168</text><text x="31" y="437">170</text><text x="31" y="476">173</text><text x="490" y="285">3</text><text x="490" y="302">139</text><text x="490" y="320">144</text><text x="490" y="349">148</text><text x="490" y="372">83</text><text x="490" y="397">142</text><text x="490" y="422">172</text><text x="490" y="450">174</text><text x="490" y="473">103</text><text x="490" y="495">104</text><text x="490" y="519">20</text><text x="490" y="548">78</text><text x="490" y="574">65</text><text x="490" y="591">75</text><text x="490" y="653">142</text><text x="490" y="689">83</text><text x="490" y="717">117</text><text x="490" y="734">140</text><text x="490" y="762">138</text><text x="490" y="805">6</text><text x="490" y="846">120</text><text x="480" y="948">150</text><text x="431" y="948">81</text><text x="382" y="948">82</text><text x="101" y="948">171</text><text x="31" y="617">101</text><text x="31" y="652">100</text>
<text class="x9" x="694" y="110" xml:space="preserve">165  inc.166～174</text><text class="x9" x="725" y="216" xml:space="preserve">8A  inc.9～9E</text>
<text x="556" y="388">48</text><text x="582" y="375">64</text><text x="612" y="370">9E</text><text x="657" y="370">133</text><text x="705" y="370">78</text><text x="755" y="370">134</text><text x="791" y="370">121</text><text x="846" y="370">125</text><text x="881" y="370">124</text><text x="934" y="370">128</text><text x="557" y="420">4</text><text x="557" y="456">131</text><text x="557" y="561">146</text><text x="557" y="628">151</text><text x="557" y="855">2</text><text x="557" y="899">79</text><text x="573" y="948">99</text><text x="607" y="948">98</text><text x="651" y="948">80</text><text x="691" y="948">84</text><text x="739" y="948">97</text><text x="773" y="948">93</text><text x="819" y="948">96</text><text x="860" y="948">92</text><text x="860" y="965">94</text><text x="860" y="982">95</text><text x="902" y="948">116</text><text x="948" y="948">105</text><text x="948" y="965">109</text><text x="948" y="982">115</text><text x="994" y="945">108</text><text x="1031" y="796">116A</text><text x="1031" y="865">160</text><text x="1026" y="685">6</text><text x="1031" y="657">102</text><text x="1031" y="622">132</text><text x="1031" y="592">147</text><text x="1031" y="566">127</text><text x="1026" y="530">9D</text><text x="1032" y="484">126</text><text x="1030" y="449">123</text><text x="814" y="1033">91</text>
<text x="1128" y="369">60</text><text x="1211" y="369">76</text><text x="1248" y="369">69</text><text x="1375" y="369">74</text><text x="1441" y="369">56</text><text x="1537" y="420">47</text><text x="1537" y="455">63</text><text x="1537" y="491">71</text><text x="1537" y="521">9C</text><text x="1537" y="551">68</text><text x="1537" y="594">21</text><text x="1123" y="454">61</text><text x="1123" y="482">9B</text><text x="1123" y="519">39</text><text x="1086" y="594">13</text><text x="1124" y="594">17</text><text x="1537" y="687">49</text><text x="1537" y="729">141</text><text x="1537" y="782">67</text><text x="1535" y="825">77</text><text x="1535" y="876">22</text><text x="1535" y="928">66</text><text x="1120" y="817">129</text><text x="1122" y="885">130</text><text x="1122" y="925">141</text><text x="1170" y="948">9</text><text x="1217" y="948">149</text><text x="1302" y="948">41</text><text x="1411" y="948">116</text><text x="1405" y="989">23</text>
<text x="1273" y="84">153</text><text x="1273" y="102">154</text><text x="1273" y="119">155</text><text x="1209" y="148">158</text><text x="1395" y="115">12</text><text x="1449" y="116">10</text><text x="1168" y="227">156</text><text x="1247" y="227">157</text><text x="1282" y="227">159</text><text x="1309" y="227">70</text><text x="1342" y="227">73</text><text x="1371" y="227">62</text><text x="1400" y="227">11</text><text x="1434" y="192">73</text><text x="1448" y="227">62</text><text x="1481" y="227">116</text>
<text x="265" y="224" style="font-size:11px;letter-spacing:2px">OIL</text>
</g>
</svg>
</body></html>
